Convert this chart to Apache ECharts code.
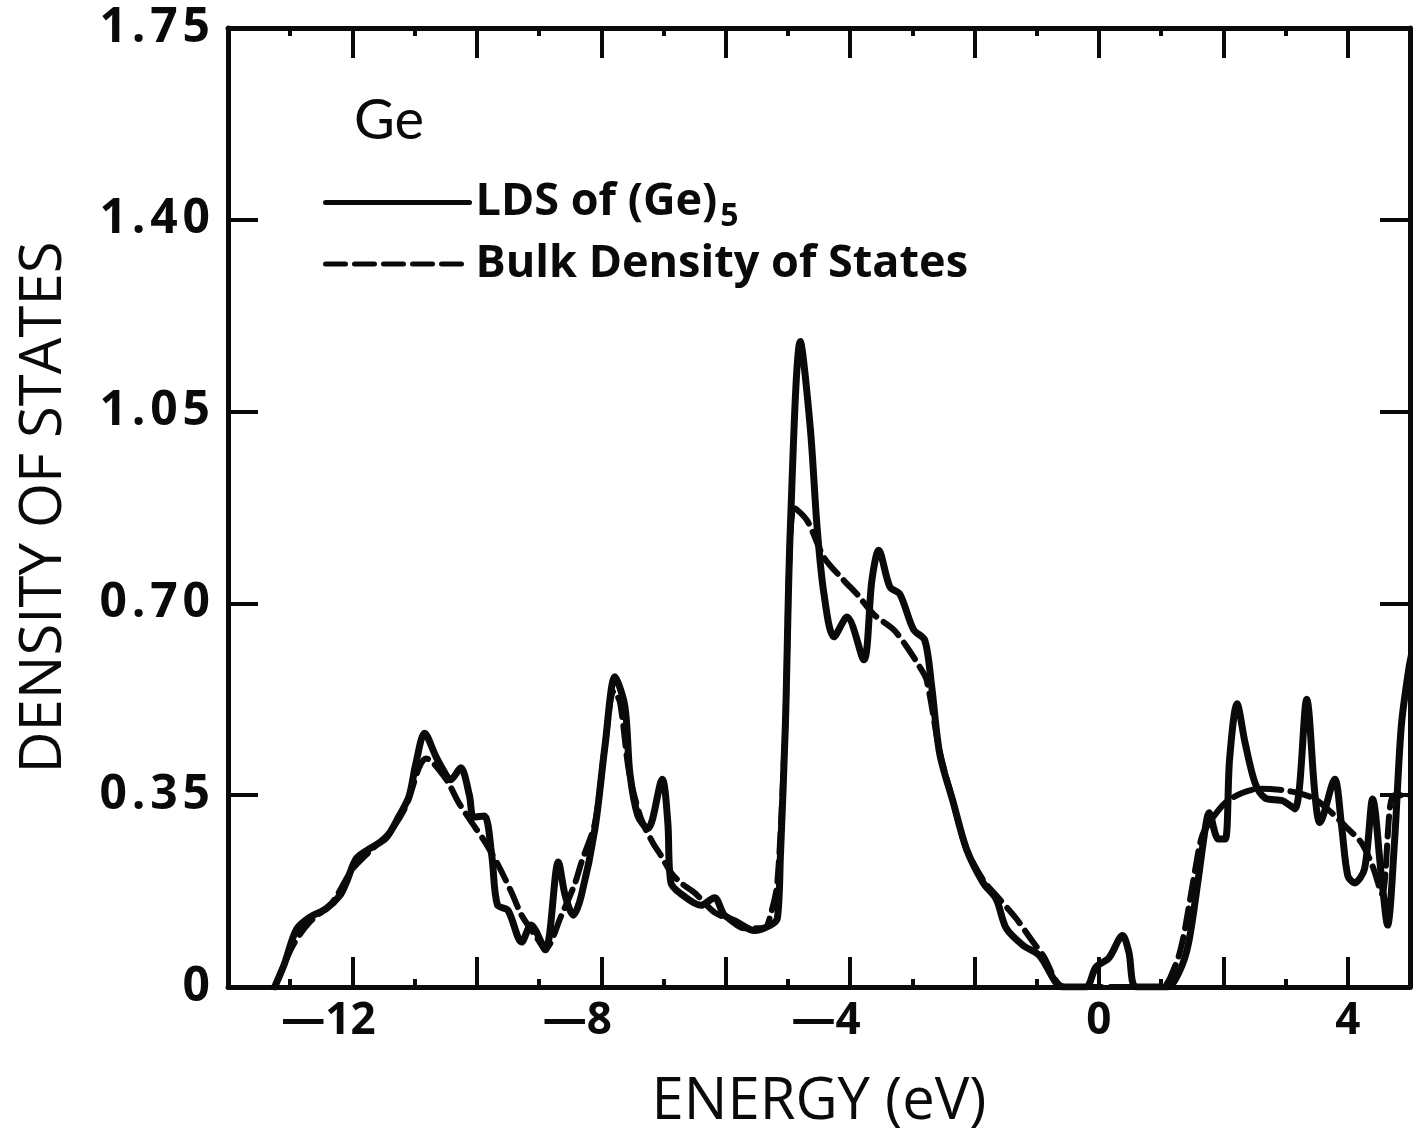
<!DOCTYPE html>
<html>
<head>
<meta charset="utf-8">
<script src="https://cdn.jsdelivr.net/npm/echarts@6/dist/echarts.min.js"></script>
<style>
html,body{margin:0;padding:0;background:#fff;}
#chart{width:1413px;height:1136px;}
</style>
</head>
<body>
<div id="chart"></div>
<script>
// ---- data ----
const ldsEnergy = [-13.25,-13.1,-12.9,-12.69,-12.42,-12.2,-12.1,-11.94,-11.73,-11.46,-11.25,-11.09,-10.98,-10.84,-10.66,-10.56,-10.42,-10.26,-10.12,-10.05,-9.88,-9.76,-9.67,-9.5,-9.28,-9.13,-8.9,-8.69,-8.58,-8.45,-8.32,-8.1,-7.94,-7.78,-7.62,-7.54,-7.41,-7.25,-7.02,-6.93,-6.88,-6.72,-6.4,-6.18,-6.02,-5.81,-5.54,-5.28,-5.17,-5.12,-5.04,-4.96,-4.8,-4.64,-4.53,-4.42,-4.26,-4.05,-3.78,-3.65,-3.54,-3.36,-3.2,-2.98,-2.8,-2.69,-2.56,-2.34,-2.13,-1.86,-1.65,-1.49,-1.22,-0.96,-0.58,-0.21,-0.05,0.16,0.38,0.48,0.6,1.1,1.3,1.44,1.6,1.71,1.77,1.92,2.03,2.1,2.22,2.35,2.51,2.67,2.95,3.15,3.34,3.47,3.55,3.79,3.9,4.0,4.11,4.27,4.4,4.54,4.64,4.75,4.86,4.98,5.05];
const ldsValue  = [0,0.04,0.105,0.127,0.143,0.167,0.19,0.234,0.252,0.272,0.312,0.348,0.408,0.463,0.421,0.4,0.378,0.4,0.35,0.31,0.312,0.24,0.15,0.14,0.082,0.113,0.068,0.228,0.167,0.131,0.167,0.29,0.44,0.566,0.512,0.39,0.312,0.289,0.379,0.3,0.19,0.17,0.149,0.163,0.131,0.118,0.103,0.113,0.125,0.24,0.48,0.84,1.178,1.02,0.838,0.717,0.639,0.675,0.597,0.742,0.797,0.73,0.717,0.652,0.633,0.55,0.426,0.336,0.252,0.19,0.16,0.107,0.076,0.058,0,0,0.036,0.053,0.094,0.064,0,0,0.03,0.08,0.2,0.29,0.318,0.27,0.27,0.416,0.517,0.445,0.372,0.345,0.34,0.325,0.525,0.354,0.3,0.379,0.294,0.203,0.19,0.216,0.343,0.203,0.113,0.263,0.476,0.58,0.62];

const bulkEnergy = [-13.25,-12.96,-12.69,-12.32,-12.0,-11.68,-11.41,-11.14,-10.93,-10.82,-10.5,-10.29,-10.08,-9.86,-9.65,-9.44,-9.28,-9.06,-8.9,-8.64,-8.42,-8.32,-8.1,-7.94,-7.8,-7.7,-7.55,-7.36,-7.17,-7.04,-6.88,-6.72,-6.5,-6.18,-5.97,-5.7,-5.38,-5.28,-5.17,-5.05,-4.9,-4.69,-4.42,-4.1,-3.89,-3.62,-3.3,-3.09,-2.88,-2.77,-2.56,-2.34,-2.13,-1.86,-1.65,-1.33,-1.06,-0.9,-0.55,1.0,1.23,1.34,1.44,1.55,1.66,1.82,2.03,2.3,2.6,2.9,3.2,3.47,3.74,4.0,4.22,4.4,4.55,4.68,4.75,5.05];
const bulkValue  = [0,0.075,0.118,0.155,0.215,0.252,0.281,0.33,0.4,0.417,0.38,0.336,0.3,0.263,0.221,0.172,0.131,0.094,0.07,0.131,0.19,0.227,0.3,0.44,0.54,0.52,0.39,0.307,0.263,0.24,0.209,0.19,0.172,0.136,0.125,0.107,0.107,0.131,0.19,0.45,0.875,0.851,0.784,0.742,0.717,0.68,0.652,0.621,0.584,0.56,0.43,0.336,0.252,0.195,0.167,0.125,0.082,0.058,0,0,0.04,0.082,0.143,0.216,0.276,0.307,0.336,0.354,0.362,0.36,0.354,0.343,0.318,0.289,0.263,0.22,0.17,0.33,0.35,0.35];

const yTickLabels = ['0','0.35','0.70','1.05','1.40','1.75'];
const seriesNames = ['LDS of (Ge)5','Bulk Density of States'];

const pair = (xs, ys) => xs.map((x,i)=>[x, ys[i]]);
const spaced = s => s.split('').join('\u200A');

const chart = echarts.init(document.getElementById('chart'), null, {renderer:'canvas'});
const INK = '#0a0a0a';
const FONT = 'Open Sans';

const axisCommon = {
  axisLine:{show:true, onZero:false, lineStyle:{color:INK, width:5}},
  axisTick:{show:true, inside:true, length:30, lineStyle:{color:INK, width:4}},
  splitLine:{show:false}
};

chart.setOption({
  backgroundColor:'#ffffff',
  animation:false,
  title:{
    text:'Ge', left:349, top:88,
    textStyle:{fontFamily:'Lato', fontSize:56, fontWeight:'normal', color:INK}
  },
  legend:{
    orient:'vertical', left:318, top:175, itemWidth:144, itemHeight:8, itemGap:9,
    data:seriesNames,
    itemStyle:{opacity:0, borderWidth:0},
    lineStyle:{width:5, color:INK},
    formatter:function(name){
      return name === seriesNames[0] ? '{a|LDS of (Ge)}{s|5}' : '{a|' + name + '}';
    },
    textStyle:{
      color:INK,
      rich:{
        a:{fontFamily:FONT, fontSize:45, fontWeight:'bold', color:INK, padding:[0,0,0,1]},
        s:{fontFamily:FONT, fontSize:32, fontWeight:'bold', color:INK, padding:[28,0,0,3]}
      }
    }
  },
  grid:{left:228, top:28, right:-3, bottom:144, containLabel:false},
  xAxis:[
    Object.assign({}, axisCommon, {
      type:'value', min:-14, max:5, interval:2, position:'bottom',
      name:'ENERGY (eV)', nameLocation:'middle', nameGap:86,
      nameTextStyle:{fontFamily:'Open Sans', fontSize:58, color:INK},
      minorTick:{show:true, splitNumber:2, length:8, lineStyle:{color:INK, width:4}},
      axisLabel:{
        margin:12,
        formatter:function(v){
          if (v % 4 !== 0) return '';
          if (v < 0) return '{d|—}{n|' + (-v) + '}{p|}';
          return '{n|' + v + '}';
        },
        rich:{
          d:{fontFamily:FONT, fontSize:44, fontWeight:'bold', color:INK},
          n:{fontFamily:FONT, fontSize:44, fontWeight:'bold', color:INK},
          p:{width:48}
        }
      }
    }),
    Object.assign({}, axisCommon, {
      type:'value', min:-14, max:5, interval:2, position:'top',
      minorTick:{show:true, splitNumber:2, length:8, lineStyle:{color:INK, width:4}},
      axisLabel:{show:false}
    })
  ],
  yAxis:[
    Object.assign({}, axisCommon, {
      type:'value', min:0, max:1.75, interval:0.35, position:'left',
      name:'DENSITY OF STATES', nameLocation:'middle', nameGap:155, nameRotate:90,
      nameTextStyle:{fontFamily:'Open Sans', fontSize:58, color:INK},
      axisLabel:{
        margin:18,
        formatter:function(v){ return spaced(yTickLabels[Math.round(v/0.35)]); },
        fontFamily:FONT, fontSize:48, fontWeight:'bold', color:INK
      }
    }),
    Object.assign({}, axisCommon, {
      type:'value', min:0, max:1.75, interval:0.35, position:'right',
      axisLabel:{show:false}
    })
  ],
  series:[
    {
      name:seriesNames[0], type:'line', symbol:'none', smooth:0.3,
      data:pair(ldsEnergy, ldsValue),
      lineStyle:{color:INK, width:7, type:'solid', cap:'round', join:'round'},
      itemStyle:{color:INK}, z:3
    },
    {
      name:seriesNames[1], type:'line', symbol:'none', smooth:0.3,
      data:pair(bulkEnergy, bulkValue),
      lineStyle:{color:INK, width:6, type:[20,9], cap:'round', join:'round'},
      itemStyle:{color:INK}, z:2
    }
  ]
});
</script>
</body>
</html>
